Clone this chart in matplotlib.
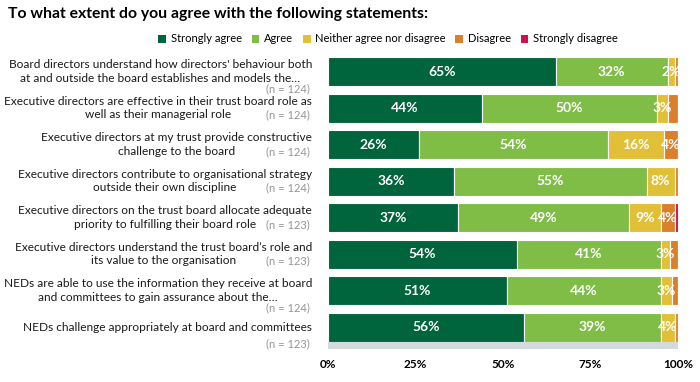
import matplotlib
matplotlib.use("Agg")
import matplotlib.pyplot as plt
from matplotlib.patches import Patch

plt.rcParams['font.family'] = ['Lato', 'DejaVu Sans']

title = "To what extent do you agree with the following statements:"

statements = [
    "Board directors understand how directors' behaviour both\nat and outside the board establishes and models the…",
    "Executive directors are effective in their trust board role as\nwell as their managerial role",
    "Executive directors at my trust provide constructive\nchallenge to the board",
    "Executive directors contribute to organisational strategy\noutside their own discipline",
    "Executive directors on the trust board allocate adequate\npriority to fulfilling their board role",
    "Executive directors understand the trust board’s role and\nits value to the organisation",
    "NEDs are able to use the information they receive at board\nand committees to gain assurance about the…",
    "NEDs challenge appropriately at board and committees",
]
n_resp = [124, 124, 124, 124, 123, 123, 124, 123]

categories = ["Strongly agree", "Agree", "Neither agree nor disagree", "Disagree", "Strongly disagree"]
colors = ["#00643c", "#80bd47", "#e1bf37", "#db7f2b", "#d0104f"]

strongly_agree = [65.0, 44.0, 26.0, 36.0, 37.0, 54.0, 51.0, 56.0]
agree          = [32.0, 50.0, 54.0, 55.0, 49.0, 41.0, 44.0, 39.0]
neither        = [2.0, 3.2, 16.0, 8.0, 9.0, 2.8, 3.2, 4.0]
disagree       = [1.0, 2.8, 4.0, 1.0, 4.0, 2.2, 1.8, 1.0]
strongly_dis   = [0.0, 0.0, 0.0, 0.0, 1.0, 0.0, 0.0, 0.0]
series = [strongly_agree, agree, neither, disagree, strongly_dis]

ticks = [0, 25, 50, 75, 100]
tick_labels = ["0%", "25%", "50%", "75%", "100%"]

fig = plt.figure(figsize=(7, 3.82), dpi=100)
ax = fig.add_axes([328 / 700, 1 - 349 / 382, 350 / 700, 292 / 382])

rows = list(range(len(statements)))
left = [0.0] * len(rows)
for ci, vals in enumerate(series):
    ax.barh(rows, vals, left=left, height=0.79, color=colors[ci],
            edgecolor="white", linewidth=0.8)
    for r, v in enumerate(vals):
        # small disagree slices are left unlabelled in the original
        show = v >= 1.5 and (ci < 3 or v >= 3.5)
        if show:
            t = ax.text(left[r] + v / 2, r, f"{round(v):d}%", ha="center", va="center",
                        color="white", fontsize=10, fontweight="bold")
            t.set_clip_on(True)
        left[r] += v

# light grey track under the last bar
ax.axhspan(7.42, 7.6, color="#d3dade", lw=0)

ax.set_xlim(0, 100)
ax.set_ylim(7.6, -0.4)
ax.set_xticks(ticks)
ax.set_xticklabels(tick_labels, fontsize=8.5, fontweight="bold")
ax.set_yticks([])
ax.tick_params(axis="x", length=0, pad=7)
for s in ax.spines.values():
    s.set_visible(False)

# statement labels: lines centred on each other, block right-aligned to the bars
renderer = fig.canvas.get_renderer()
tr = ax.get_yaxis_transform()
x_right = 312
half = 0.185
for r, (txt, n) in enumerate(zip(statements, n_resp)):
    lines = txt.split("\n")
    ys = [r] if len(lines) == 1 else [r - half, r + half]
    objs = [ax.text(0, y, ln, transform=tr, ha="center", va="center",
                    fontsize=8.55, color="#1a1a1a") for ln, y in zip(lines, ys)]
    widths = [o.get_window_extent(renderer).width for o in objs]
    cx = x_right - max(widths) / 2
    for o in objs:
        o.set_x((cx - 328) / 350)
    below = len(lines) == 1 or len(lines[1]) > 40
    ax.text(-0.051, r + (0.46 if below else half), f"(n = {n})", transform=tr,
            ha="right", va="center", fontsize=8, color="#959595")

fig.text(8 / 700, 1 - 14 / 382, title, fontsize=11.3, fontweight="bold",
         ha="left", va="center")

handles = [Patch(facecolor=c, edgecolor="none") for c in colors]
fig.legend(handles, categories, loc="center", bbox_to_anchor=(388 / 700, 1 - 39 / 382),
           ncol=5, frameon=False, fontsize=8, handlelength=0.7, handleheight=0.7,
           handletextpad=0.4, columnspacing=0.9, borderaxespad=0)

fig.savefig("out.png", dpi=100)
